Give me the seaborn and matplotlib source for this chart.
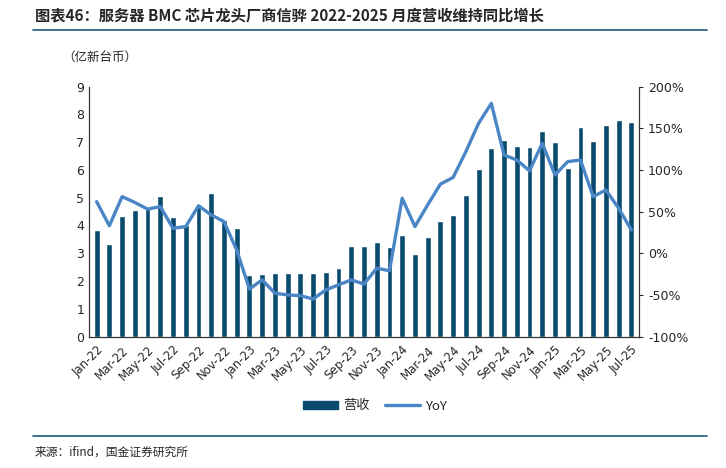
import numpy as np
import pandas as pd
import matplotlib
matplotlib.use("Agg")
import matplotlib.pyplot as plt
import matplotlib.ticker as mticker
from matplotlib.patches import Patch
from matplotlib.lines import Line2D
import seaborn as sns

# monthly data, Jan-22 .. Jul-25
months = pd.date_range("2022-01-01", "2025-07-01", freq="MS").strftime("%b-%y").tolist()
revenue = [3.84, 3.34, 4.35, 4.56, 4.68, 5.08, 4.30, 4.02, 4.78, 5.16, 4.20, 3.90,
           2.20, 2.26, 2.30, 2.30, 2.30, 2.30, 2.34, 2.46, 3.26, 3.26, 3.42, 3.22,
           3.65, 2.96, 3.60, 4.16, 4.38, 5.09, 6.04, 6.78, 7.08, 6.86, 6.83, 7.39,
           7.01, 6.08, 7.56, 7.04, 7.61, 7.81, 7.74]
yoy = [62, 33, 68, 61, 53, 56, 30, 32, 57, 46, 38, 4,
       -43, -32, -48, -50, -51, -55, -44, -38, -32, -37, -18, -21,
       66, 32, 58, 83, 91, 122, 156, 180, 118, 112, 99, 132,
       94, 110, 112, 68, 76, 54, 28]

df = pd.DataFrame({"month": months, "revenue": revenue, "yoy": yoy})
df["pos"] = np.arange(len(df))

sns.set_style("white")
plt.rcParams["font.family"] = ["Noto Sans CJK SC", "DejaVu Sans"]

BAR = "#0a4a6e"
LINE = "#4a86c6"

fig = plt.figure(figsize=(7.26, 4.68), dpi=100)
ax = fig.add_axes([89 / 726, 1 - 336.5 / 468, 550 / 726, 249.8 / 468])

sns.barplot(data=df, x="month", y="revenue", color=BAR, width=0.46,
            saturation=1, ax=ax)
ax.set_ylim(0, 9)
ax.set_xlim(-0.6, len(df) - 0.4)
ax.set_yticks(range(0, 10))
ax.set_xlabel("")
ax.set_ylabel("")
ax.set_xticks(df["pos"][::2])
ax.set_xticklabels(df["month"][::2], rotation=45, ha="right",
                   rotation_mode="anchor", fontsize=8.5, family="DejaVu Sans")
ax.tick_params(axis="y", labelsize=9, length=0)
ax.tick_params(axis="x", length=3, direction="out", pad=2)
for lab in ax.get_yticklabels():
    lab.set_family("DejaVu Sans")

ax2 = ax.twinx()
sns.lineplot(x=df["pos"], y=df["yoy"], color=LINE, linewidth=2.4, ax=ax2)
ax2.set_ylim(-100, 200)
ax2.set_yticks(range(-100, 201, 50))
ax2.yaxis.set_major_formatter(mticker.FuncFormatter(lambda v, p: f"{int(v)}%"))
ax2.set_ylabel("")
ax2.tick_params(axis="y", labelsize=9, length=3, direction="out")
for lab in ax2.get_yticklabels():
    lab.set_family("DejaVu Sans")

for a in (ax, ax2):
    a.spines["top"].set_visible(False)
    for s in ("left", "right", "bottom"):
        a.spines[s].set_color("#333333")
        a.spines[s].set_linewidth(0.8)

# title, unit, legend, source
fig.text(35 / 726, 1 - 15 / 468, "图表46：服务器 BMC 芯片龙头厂商信骅 2022-2025 月度营收维持同比增长",
         fontsize=11, fontweight="bold", style="italic", va="center", ha="left")
fig.add_artist(Line2D([33 / 726, 707 / 726], [1 - 30 / 468] * 2, color="#1d5a82", lw=1.2))
fig.text(62 / 726, 1 - 58 / 468, "（亿新台币）", fontsize=9, va="center", ha="left")

handles = [Patch(color=BAR, label="营收"), Line2D([], [], color=LINE, lw=2.4, label="YoY")]
fig.legend(handles=handles, loc="center", bbox_to_anchor=(375 / 726, 1 - 406 / 468),
           ncol=2, frameon=False, fontsize=9.5, handlelength=2.6, handleheight=0.5,
           columnspacing=1.2, handletextpad=0.4)

fig.add_artist(Line2D([33 / 726, 707 / 726], [1 - 436 / 468] * 2, color="#1d5a82", lw=1.2))
fig.text(35 / 726, 1 - 452 / 468, "来源：ifind，国金证券研究所", fontsize=8.5, va="center", ha="left")

fig.savefig("out.png", dpi=100)
